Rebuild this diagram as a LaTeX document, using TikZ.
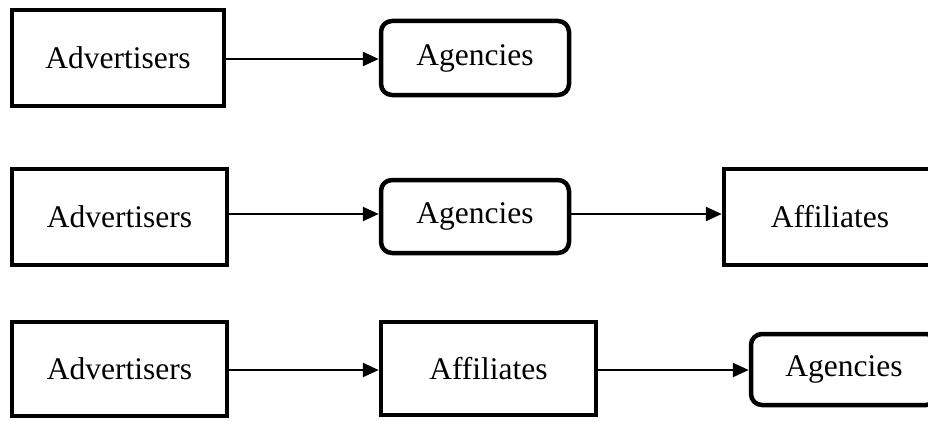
\documentclass[tikz,border=0pt]{standalone}
\usepackage{fontspec}
\setmainfont{Liberation Serif}
\usetikzlibrary{arrows.meta}
\begin{document}
\begin{tikzpicture}[x=1pt,y=-1pt,
  sqbox/.style={draw,line width=4.5pt,inner sep=0pt,font=\fontsize{31.5}{34}\selectfont},
  rdbox/.style={sqbox,rounded corners=11pt},
  flow/.style={line width=2.4pt,-{Triangle[length=16pt,width=14pt]}}]
\useasboundingbox (0,0) rectangle (928,420);
\clip (0,0) rectangle (928,420);
% row 1
\node[sqbox,minimum width=212pt,minimum height=96pt] (adv1) at (118,58) {Advertisers};
\node[rdbox,minimum width=188pt,minimum height=74pt] (age1) at (475,58) {Agencies};
% row 2
\node[sqbox,minimum width=215pt,minimum height=96pt] (adv2) at (119.5,217) {Advertisers};
\node[rdbox,minimum width=188pt,minimum height=73pt] (age2) at (475,216.5) {Agencies};
\node[sqbox,minimum width=212pt,minimum height=96pt] (aff2) at (830,217) {Affiliates};
% row 3
\node[sqbox,minimum width=215pt,minimum height=94pt] (adv3) at (119.5,369) {Advertisers};
\node[sqbox,minimum width=215pt,minimum height=93pt] (aff3) at (488.5,368.5) {Affiliates};
\node[rdbox,minimum width=186pt,minimum height=71pt] (age3) at (844,369.5) {Agencies};
% arrows
\draw[flow] (adv1.east |- 0,59) -- (age1.west |- 0,59);
\draw[flow] (adv2.east |- 0,214) -- (age2.west |- 0,214);
\draw[flow] (age2.east |- 0,214) -- (aff2.west |- 0,214);
\draw[flow] (adv3.east |- 0,370) -- (aff3.west |- 0,370);
\draw[flow] (aff3.east |- 0,370) -- (age3.west |- 0,370);
\end{tikzpicture}
\end{document}
